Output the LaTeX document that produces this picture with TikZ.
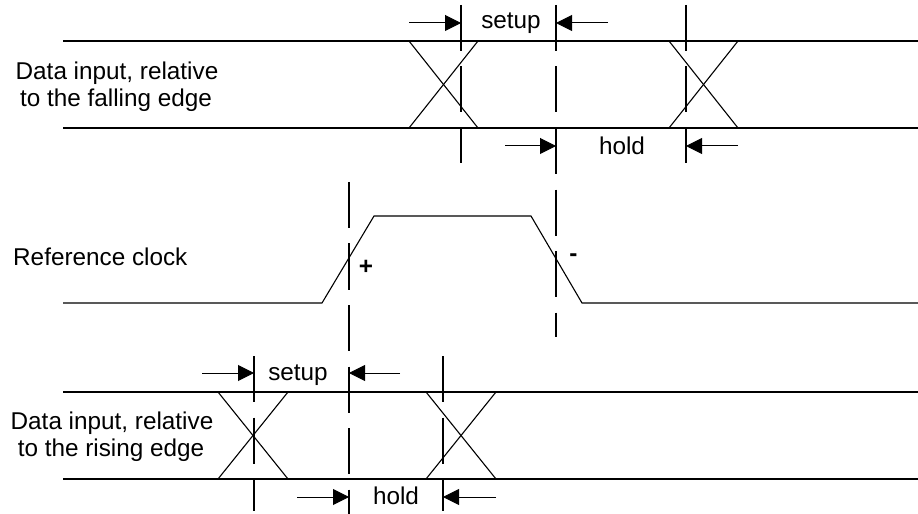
\documentclass[tikz,border=0pt]{standalone}
\usepackage{fontspec}
\setmainfont{Liberation Sans}
\usetikzlibrary{arrows.meta}
\begin{document}
\begin{tikzpicture}[x=1bp,y=-1bp,
  sig/.style={line width=1.1bp, line join=miter},
  marker/.style={line width=1.1bp, dash pattern=on 46bp off 15.5bp},
  dim/.style={line width=1bp, -{Triangle[length=16bp,width=16bp]}},
  lbl/.style={font=\fontsize{24.3bp}{28bp}\selectfont, inner sep=0pt, anchor=base},
  sgn/.style={font=\fontsize{24.3bp}{28bp}\selectfont\bfseries, inner sep=0pt, anchor=center}]
\useasboundingbox (0,0) rectangle (918,514);

% ---- top data signal ----
\draw[sig] (63,41) -- (918,41);
\draw[sig] (63,128) -- (918,128);
\draw[sig] (409,41) -- (478,128);
\draw[sig] (478,41) -- (409,128);
\draw[sig] (669,41) -- (738,128);
\draw[sig] (738,41) -- (669,128);

% ---- clock ----
\draw[sig] (63,303) -- (322,303) -- (374,216) -- (531,216) -- (582,303) -- (918,303);

% ---- bottom data signal ----
\draw[sig] (63,392) -- (918,392);
\draw[sig] (63,479) -- (918,479);
\draw[sig] (218,392) -- (288,479);
\draw[sig] (288,392) -- (218,479);
\draw[sig] (426,392) -- (496,479);
\draw[sig] (496,392) -- (426,479);

% ---- vertical markers ----
\coordinate (mA1) at (461,5);   \coordinate (mA2) at (461,163);
\coordinate (mB1) at (556,5);   \coordinate (mB2) at (556,337);
\coordinate (mC1) at (686,5);   \coordinate (mC2) at (686,163);
\coordinate (mD1) at (349,182); \coordinate (mD2) at (349,514);
\coordinate (mE1) at (254,356); \coordinate (mE2) at (254,511);
\coordinate (mF1) at (443,356); \coordinate (mF2) at (443,511);
\draw[marker] (mA1) -- (mA2);
\draw[marker] (mB1) -- (mB2);
\draw[marker] (mC1) -- (mC2);
\draw[marker] (mD1) -- (mD2);
\draw[marker] (mE1) -- (mE2);
\draw[marker] (mF1) -- (mF2);

% ---- dimension arrows, top ----
\coordinate (s1a) at (409,23);   \coordinate (s1b) at (461,23);
\coordinate (s2a) at (608,23);   \coordinate (s2b) at (556,23);
\coordinate (h1a) at (505,146);  \coordinate (h1b) at (556,146);
\coordinate (h2a) at (738,146);  \coordinate (h2b) at (686,146);
\draw[dim] (s1a) -- (s1b);
\draw[dim] (s2a) -- (s2b);
\draw[dim] (h1a) -- (h1b);
\draw[dim] (h2a) -- (h2b);

% ---- dimension arrows, bottom ----
\coordinate (s3a) at (202,373);  \coordinate (s3b) at (254,373);
\coordinate (s4a) at (400,373);  \coordinate (s4b) at (349,373);
\coordinate (h3a) at (297,497);  \coordinate (h3b) at (349,497);
\coordinate (h4a) at (496,497);  \coordinate (h4b) at (443,497);
\draw[dim] (s3a) -- (s3b);
\draw[dim] (s4a) -- (s4b);
\draw[dim] (h3a) -- (h3b);
\draw[dim] (h4a) -- (h4b);

% ---- labels ----
\node[lbl] (setupT) at (511,28.5) {setup};
\node[lbl] (holdT) at (622,155) {hold};
\node[lbl] (setupB) at (298,380) {setup};
\node[lbl] (holdB) at (396,504) {hold};

\node[lbl] (topL1) at (117,80) {Data input, relative};
\node[lbl] (topL2) at (116,107) {to the falling edge};
\node[lbl, anchor=base west] (clkL) at (13,266) {Reference clock};
\node[lbl] (botL1) at (112,429.3) {Data input, relative};
\node[lbl] (botL2) at (111,456.7) {to the rising edge};

\node[sgn] (plus) at (366,267.7) {+};
\node[sgn] (minus) at (573.3,257.7) {-};
\end{tikzpicture}
\end{document}
